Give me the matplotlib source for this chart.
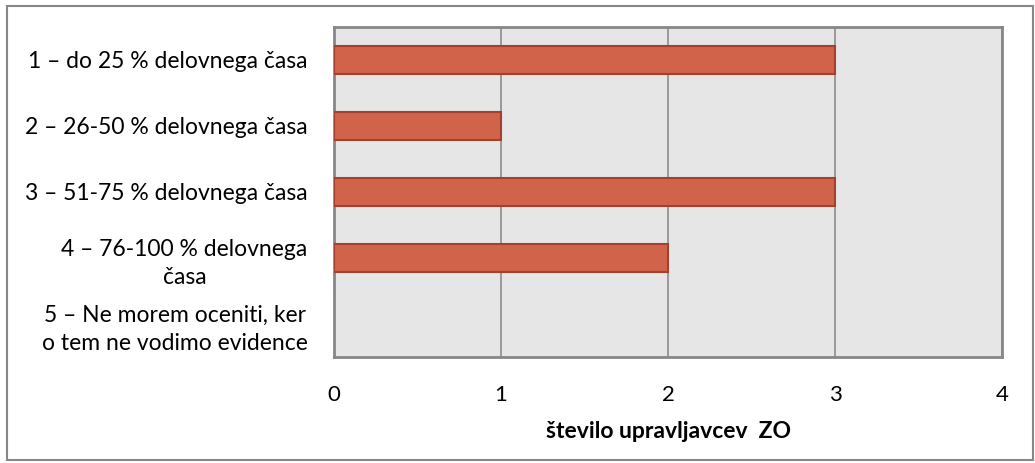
import matplotlib.pyplot as plt
from matplotlib.patches import Rectangle

categories = [
    "1 – do 25 % delovnega časa",
    "2 – 26-50 % delovnega časa",
    "3 – 51-75 % delovnega časa",
    "4 – 76-100 % delovnega\nčasa",
    "5 – Ne morem oceniti, ker\no tem ne vodimo evidence",
]
values = [3, 1, 3, 2, 0]
xticks = [0, 1, 2, 3, 4]

plt.rcParams['font.family'] = ['Lato', 'DejaVu Sans']

fig = plt.figure(figsize=(10.35, 4.63), dpi=100)
ax = fig.add_axes([334 / 1035, 1 - 357 / 463, 668 / 1035, 330 / 463])

ypos = list(range(len(categories)))
bars = ax.barh(ypos, values, height=0.41, color='#d0634a', edgecolor='#a3402e', linewidth=1.5, zorder=3)
for b in bars:
    if b.get_width() == 0:
        b.set_visible(False)

ax.set_xlim(0, 4)
ax.set_ylim(len(categories) - 0.5, -0.5)
ax.set_facecolor('#e6e6e6')
ax.set_xticks(xticks)
ax.set_xticklabels([str(t) for t in xticks], fontsize=16)
ax.set_yticks(ypos)
ax.set_yticklabels(categories, fontsize=16.5, ha='right', multialignment='center', linespacing=1.4)
ax.tick_params(axis='both', length=0)
ax.tick_params(axis='x', pad=20)
ax.tick_params(axis='y', pad=19)
ax.grid(axis='x', color='#8c8c8c', linewidth=1.2, zorder=1)
for s in ax.spines.values():
    s.set_color('#878787')
    s.set_linewidth(2)
ax.set_xlabel("število upravljavcev  ZO", fontsize=16.5, fontweight='bold', labelpad=12)

# outer chart border
fig.patches.append(Rectangle((7 / 1035, 3 / 463), 1026 / 1035, 454 / 463, transform=fig.transFigure,
                             fill=False, edgecolor='#878787', linewidth=1.5))

fig.savefig('out.png', dpi=100)
